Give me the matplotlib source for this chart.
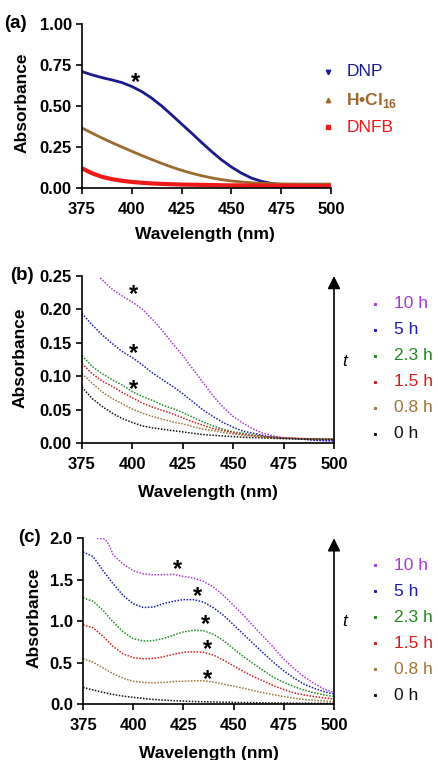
import matplotlib
matplotlib.use("Agg")
import matplotlib.pyplot as plt
from matplotlib.lines import Line2D
from matplotlib.transforms import offset_copy

plt.rcParams['font.family'] = ['Liberation Sans', 'DejaVu Sans']
plt.rcParams['mathtext.fontset'] = 'custom'
plt.rcParams['mathtext.bf'] = 'Liberation Sans:bold'
plt.rcParams['mathtext.rm'] = 'Liberation Sans'

# ---------------- data ----------------
wl = [375, 380, 385, 390, 395, 400, 405, 410, 415, 420, 425, 430, 435,
      440, 445, 450, 455, 460, 465, 470, 475, 480, 485, 490, 495, 500]

# panel (a)
a_dnp = [0.710, 0.690, 0.673, 0.659, 0.643, 0.619, 0.588, 0.548, 0.500, 0.446,
         0.390, 0.335, 0.278, 0.223, 0.172, 0.128, 0.091, 0.061, 0.041, 0.028,
         0.020, 0.016, 0.014, 0.013, 0.012, 0.012]
a_hcl = [0.366, 0.335, 0.305, 0.277, 0.250, 0.224, 0.198, 0.174, 0.150, 0.128,
         0.108, 0.090, 0.075, 0.062, 0.051, 0.043, 0.037, 0.032, 0.029, 0.027,
         0.025, 0.024, 0.024, 0.024, 0.024, 0.024]
a_dnfb = [0.120, 0.090, 0.068, 0.054, 0.044, 0.037, 0.032, 0.028, 0.025, 0.023,
          0.021, 0.020, 0.019, 0.018, 0.017, 0.016, 0.016, 0.015, 0.015, 0.014,
          0.014, 0.014, 0.013, 0.013, 0.013, 0.013]
a_labels = ['DNP', 'H•Cl$_{\\mathbf{16}}$', 'DNFB']
a_star = [(402, 0.665)]

# panel (b)
wl_b10 = [384, 390, 395, 400, 405, 410, 415, 420, 425, 430, 435, 440, 445,
          450, 455, 460, 465, 470, 475, 480, 485, 490, 495, 500]
b_10h = [0.247, 0.230, 0.220, 0.211, 0.200, 0.185, 0.168, 0.149, 0.131, 0.111,
         0.091, 0.071, 0.054, 0.040, 0.030, 0.021, 0.015, 0.011, 0.0085, 0.0075,
         0.0065, 0.005, 0.004, 0.004]
b_5h = [0.194, 0.177, 0.162, 0.149, 0.137, 0.128, 0.117, 0.105, 0.095, 0.085,
        0.074, 0.062, 0.050, 0.040, 0.031, 0.024, 0.018, 0.015, 0.0115, 0.009,
        0.0075, 0.0065, 0.006, 0.0045, 0.004, 0.0035]
b_23h = [0.131, 0.115, 0.104, 0.095, 0.087, 0.077, 0.070, 0.064, 0.057, 0.052,
         0.046, 0.039, 0.032, 0.026, 0.021, 0.017, 0.015, 0.0125, 0.010, 0.0085,
         0.0075, 0.007, 0.0065, 0.006, 0.006, 0.006]
b_15h = [0.119, 0.104, 0.093, 0.085, 0.076, 0.068, 0.060, 0.054, 0.049, 0.044,
         0.038, 0.032, 0.027, 0.022, 0.019, 0.016, 0.013, 0.0115, 0.010, 0.009,
         0.008, 0.0075, 0.007, 0.0065, 0.0065, 0.0065]
b_08h = [0.104, 0.090, 0.077, 0.067, 0.059, 0.051, 0.045, 0.040, 0.036, 0.032,
         0.029, 0.025, 0.021, 0.019, 0.016, 0.014, 0.012, 0.011, 0.010, 0.009,
         0.008, 0.0075, 0.007, 0.0065, 0.006, 0.006]
b_0h = [0.084, 0.067, 0.055, 0.045, 0.037, 0.031, 0.026, 0.023, 0.021, 0.019,
        0.017, 0.015, 0.013, 0.012, 0.011, 0.010, 0.009, 0.0085, 0.008, 0.0075,
        0.007, 0.007, 0.0065, 0.0065, 0.006, 0.006]
b_stars = [(400.5, 0.228), (400.5, 0.140), (400.5, 0.085)]

# panel (c)
wl_c10 = [382, 386, 388, 390, 395, 400, 405, 410, 415, 420, 425, 430, 435,
          440, 445, 450, 455, 460, 465, 470, 475, 480, 485, 490, 495, 500]
c_10h = [2.00, 1.99, 1.92, 1.80, 1.69, 1.61, 1.57, 1.56, 1.56, 1.565, 1.54,
         1.52, 1.48, 1.41, 1.31, 1.19, 1.07, 0.935, 0.81, 0.68, 0.54, 0.43,
         0.33, 0.25, 0.18, 0.14]
c_5h = [1.835, 1.78, 1.61, 1.45, 1.31, 1.21, 1.165, 1.17, 1.21, 1.24, 1.26,
        1.26, 1.23, 1.16, 1.07, 0.955, 0.84, 0.725, 0.61, 0.50, 0.40, 0.315,
        0.24, 0.19, 0.15, 0.12]
c_23h = [1.28, 1.24, 1.13, 0.99, 0.87, 0.79, 0.76, 0.765, 0.79, 0.83, 0.87,
         0.89, 0.885, 0.84, 0.765, 0.665, 0.57, 0.485, 0.40, 0.32, 0.26, 0.21,
         0.17, 0.135, 0.11, 0.09]
c_15h = [0.955, 0.92, 0.815, 0.695, 0.605, 0.56, 0.545, 0.55, 0.57, 0.60, 0.625,
         0.63, 0.625, 0.59, 0.53, 0.46, 0.39, 0.33, 0.275, 0.22, 0.175, 0.135,
         0.11, 0.09, 0.075, 0.06]
c_08h = [0.545, 0.505, 0.435, 0.365, 0.31, 0.275, 0.26, 0.255, 0.26, 0.27,
         0.275, 0.28, 0.28, 0.265, 0.24, 0.215, 0.19, 0.16, 0.135, 0.11, 0.09,
         0.07, 0.055, 0.045, 0.037, 0.03]
c_0h = [0.20, 0.17, 0.14, 0.115, 0.095, 0.08, 0.067, 0.055, 0.047, 0.04, 0.035,
        0.03, 0.027, 0.025, 0.022, 0.02, 0.018, 0.016, 0.014, 0.012, 0.011,
        0.010, 0.009, 0.009, 0.008, 0.008]
c_stars = [(422, 1.66), (432, 1.34), (436, 1.0), (437, 0.70), (437, 0.335)]

time_labels = ['10 h', '5 h', '2.3 h', '1.5 h', '0.8 h', '0 h']
time_colors = ['#a838dc', '#1c1cb4', '#1f8a1f', '#d41c1c', '#9c7438', '#111111']
a_colors = ['#1a1a8c', '#9a6a2e', '#ee1a1a']

xticks = [375, 400, 425, 450, 475, 500]

# ---------------- figure ----------------
W, H = 438, 760
fig = plt.figure(figsize=(W / 100, H / 100), dpi=100)


def fx(px):
    return px / W


def fy(py):
    return 1 - py / H


def make_axes(l, r, t, b):
    return fig.add_axes([fx(l), fy(b), fx(r) - fx(l), (b - t) / H])


def style(ax, ylim, yticks, yfmt, ylab_xy, xlab_xy):
    ax.set_xlim(375, 500)
    ax.set_ylim(*ylim)
    ax.set_xticks(xticks)
    ax.set_yticks(yticks)
    ax.set_yticklabels([yfmt.format(v) for v in yticks])
    for s in ['top', 'right']:
        ax.spines[s].set_visible(False)
    for s in ['left', 'bottom']:
        ax.spines[s].set_linewidth(1.2)
    ax.tick_params(axis='both', direction='out', length=4.3, width=1.2,
                   labelsize=12)
    ax.tick_params(axis='x', pad=5.8)
    ax.tick_params(axis='y', pad=3)
    for lab in ax.get_xticklabels() + ax.get_yticklabels():
        lab.set_fontweight('bold')
    ax.set_xlabel('Wavelength (nm)', fontsize=12.5, fontweight='bold', va='center')
    ax.set_ylabel('Absorbance', fontsize=12.5, fontweight='bold', va='center')
    ax.yaxis.set_label_coords(*ylab_xy)
    ax.xaxis.set_label_coords(*xlab_xy)


def stars(ax, pts):
    tr = offset_copy(ax.transData, fig=fig, x=0, y=-3.5, units='dots')
    for (x, y) in pts:
        ax.text(x, y, '*', fontsize=17, fontweight='bold', ha='center',
                va='center', transform=tr)


dots = (0, (1, 1))

# ---- (a)
axa = make_axes(82, 331, 24, 188)
axa.plot(wl, a_dnp, color=a_colors[0], lw=2.0, solid_capstyle='butt')
axa.plot(wl, a_hcl, color=a_colors[1], lw=2.0, solid_capstyle='butt')
axa.plot(wl, a_dnfb, color=a_colors[2], lw=3.0, solid_capstyle='butt')
style(axa, (0, 1.0), [0, 0.25, 0.5, 0.75, 1.0], '{:.2f}',
      (-0.239, 0.518), (0.494, -0.286))
stars(axa, a_star)

# ---- (b)
axb = make_axes(82, 334, 276, 443.3)
b_series = [(wl_b10, b_10h), (wl, b_5h), (wl, b_23h), (wl, b_15h), (wl, b_08h), (wl, b_0h)]
for (xs, ys), c in zip(b_series, time_colors):
    axb.plot(xs, ys, color=c, lw=1.1, ls=dots)
style(axb, (0, 0.25), [0, 0.05, 0.10, 0.15, 0.20, 0.25], '{:.2f}',
      (-0.246, 0.51), (0.498, -0.297))
stars(axb, b_stars)

# ---- (c)
axc = make_axes(83, 334, 538.3, 704)
c_series = [(wl_c10, c_10h), (wl, c_5h), (wl, c_23h), (wl, c_15h), (wl, c_08h), (wl, c_0h)]
for (xs, ys), c in zip(c_series, time_colors):
    axc.plot(xs, ys, color=c, lw=1.1, ls=dots)
style(axc, (0, 2.0), [0, 0.5, 1.0, 1.5, 2.0], '{:.1f}',
      (-0.193, 0.522), (0.502, -0.296))
stars(axc, c_stars)

# time arrows
for ax, top, ty in [(axb, 0.25, 361), (axc, 2.0, 622)]:
    ax.annotate('', xy=(500, top), xytext=(500, 0), annotation_clip=False,
                arrowprops=dict(arrowstyle='-|>', lw=1.2, color='black',
                                mutation_scale=19, shrinkA=0, shrinkB=0))
    fig.text(fx(345), fy(ty), 't', fontsize=12.5, style='italic',
             ha='center', va='center')

# panel labels
for lab, x, y in [('(a)', 15, 24), ('(b)', 21.5, 276), ('(c)', 29, 538)]:
    fig.text(fx(x), fy(y), lab, fontsize=13.5, fontweight='bold',
             ha='center', va='center')

# legend (a)
a_markers = ['v', '^', 's']
a_rows = [72, 100, 127]
for lab, c, m, y in zip(a_labels, a_colors, a_markers, a_rows):
    fig.add_artist(Line2D([fx(328)], [fy(y)], marker=m, ms=3.2, color=c,
                          ls='none', transform=fig.transFigure))
    fig.text(fx(346.5), fy(y), lab, fontsize=12.5, color=c, ha='left',
             va='center', fontweight='bold' if 'Cl' in lab else 'normal')

# legends (b), (c)
for rows in ([304, 330, 356, 382, 408, 434], [565, 591, 617, 643, 669, 695]):
    for lab, c, y in zip(time_labels, time_colors, rows):
        fig.add_artist(Line2D([fx(375)], [fy(y)], marker='s', ms=1.2, color=c,
                              ls='none', transform=fig.transFigure))
        fig.text(fx(393.5), fy(y), lab, fontsize=12.5, color=c, ha='left',
                 va='center')

fig.savefig('out.png', dpi=100)
